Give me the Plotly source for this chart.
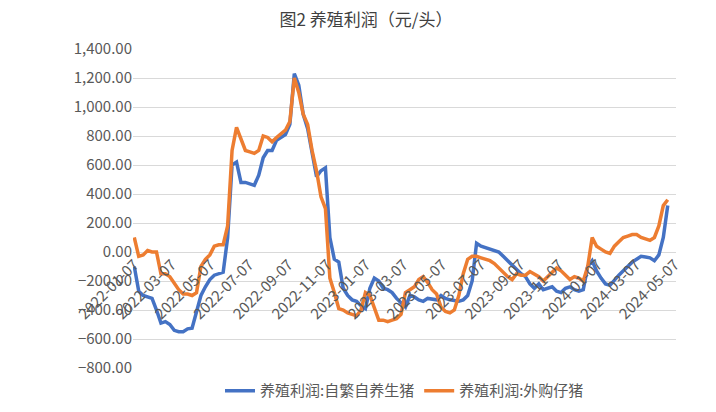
import pandas as pd
import plotly.graph_objects as go

dates = pd.date_range("2022-01-07", periods=121, freq="7D")
self_bred = [-100,-270,-300,-310,-320,-400,-490,-480,-500,-540,-550,-550,-530,-525,-420,-300,-240,-190,-160,-150,
 -140,100,600,620,480,480,470,460,530,650,700,700,770,790,810,880,1230,1150,950,850,
 700,520,560,580,100,-50,-70,-250,-300,-330,-340,-370,-390,-250,-180,-200,-250,-260,-280,-320,
 -350,-380,-300,-310,-330,-340,-320,-325,-330,-300,-320,-330,-335,-340,-330,-300,-200,60,40,30,
 20,10,0,-30,-60,-90,-120,-150,-170,-220,-250,-220,-260,-250,-240,-270,-280,-250,-240,-260,
 -270,-260,-100,-60,-130,-180,-220,-230,-190,-160,-130,-100,-70,-50,-30,-35,-40,-60,-20,100,320]
purchased = [100,-30,-20,10,0,0,-150,-150,-170,-220,-260,-290,-290,-300,-280,-100,-50,-20,40,50,
 50,180,700,860,780,700,690,680,700,800,790,760,790,815,840,900,1200,1100,950,880,
 700,560,380,300,-180,-280,-390,-400,-420,-430,-440,-400,-280,-300,-390,-470,-470,-480,-470,-460,
 -430,-280,-260,-240,-190,-170,-210,-260,-290,-380,-410,-420,-400,-300,-150,-50,-30,-30,-40,-50,
 -60,-80,-110,-140,-170,-190,-150,-160,-160,-135,-150,-170,-200,-170,-140,-110,-130,-160,-190,-170,
 -180,-200,-100,100,40,20,0,-10,40,70,100,110,120,120,100,90,80,100,180,320,360]
tick_dates = ["2022-01-07","2022-03-07","2022-05-07","2022-07-07","2022-09-07","2022-11-07",
              "2023-01-07","2023-03-07","2023-05-07","2023-07-07","2023-09-07","2023-11-07",
              "2024-01-07","2024-03-07","2024-05-07"]

font = "Noto Sans CJK SC"
fig = go.Figure()
fig.add_trace(go.Scatter(x=dates, y=self_bred, mode="lines", name="养殖利润:自繁自养生猪",
                         line=dict(color="#4472C4", width=3.5)))
fig.add_trace(go.Scatter(x=dates, y=purchased, mode="lines", name="养殖利润:外购仔猪",
                         line=dict(color="#ED7D31", width=3.5)))
fig.update_layout(
    width=716, height=412, paper_bgcolor="white", plot_bgcolor="white",
    margin=dict(l=125, r=48, t=41, b=52),
    font=dict(family=font, color="#595959", size=15),
    title=dict(text="图2 养殖利润（元/头）", x=0.5, xanchor="center", y=0.985, yanchor="top",
               font=dict(size=17, color="#404040")),
    legend=dict(orientation="h", x=0.5, xanchor="center", y=-0.02, yanchor="top",
                font=dict(size=15, color="#595959")),
    xaxis=dict(type="date", range=["2022-01-05", "2024-05-09"], tickvals=tick_dates,
               tickformat="%Y-%m-%d", tickangle=-45, showgrid=False, showline=False,
               anchor="free", position=800/2200, ticks="", zeroline=False),
    yaxis=dict(range=[-800, 1400], dtick=200, tickformat=",.2f", gridcolor="#D9D9D9",
               zeroline=False, showline=False),
)
fig.write_html("out.html")
